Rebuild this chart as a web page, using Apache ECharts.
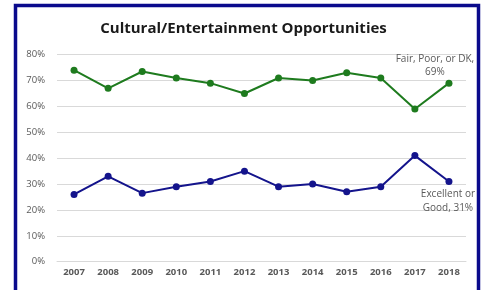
<!DOCTYPE html>
<html>
<head>
<meta charset="utf-8">
<script src="https://cdn.jsdelivr.net/npm/echarts@6/dist/echarts.min.js"></script>
<style>
html,body{margin:0;padding:0;background:#fff;}
#main{width:487px;height:290px;}
</style>
</head>
<body>
<div id="main"></div>
<script>
const years = ['2007','2008','2009','2010','2011','2012','2013','2014','2015','2016','2017','2018'];
const fairPoorDK = [74, 67, 73.5, 71, 69, 65, 71, 70, 73, 71, 59, 69];
const excellentGood = [26, 33, 26.5, 29, 31, 35, 29, 30, 27, 29, 41, 31];
const yTicks = [0, 10, 20, 30, 40, 50, 60, 70, 80];
const titleText = 'Cultural/Entertainment Opportunities';
const greenName = 'Fair, Poor, or DK';
const blueName = 'Excellent or Good';

const chart = echarts.init(document.getElementById('main'), null, {renderer: 'canvas'});
const lastIdx = years.length - 1;

function withLastLabel(values, labelCfg) {
  return values.map((v, i) => i === lastIdx ? {value: v, label: labelCfg} : v);
}

chart.setOption({
  animation: false,
  backgroundColor: '#fff',
  title: {
    text: titleText,
    left: 'center',
    top: 16,
    textStyle: {fontFamily: 'Open Sans', fontWeight: 'bold', fontSize: 15, color: '#1a1a1a'}
  },
  graphic: [{
    type: 'polyline',
    shape: {points: [[15.5, 400], [15.5, 5.5], [478.5, 5.5], [478.5, 400]]},
    style: {fill: 'none', stroke: '#0a0a8c', lineWidth: 3.5},
    silent: true
  }],
  grid: {left: 57, right: 21, top: 54.7, bottom: 28.3},
  xAxis: {
    type: 'category',
    data: years,
    boundaryGap: true,
    axisLine: {show: true, lineStyle: {color: '#d9d9d9', width: 1}},
    axisTick: {show: false},
    axisLabel: {color: '#595959', fontSize: 9.5, fontFamily: 'Open Sans', fontWeight: 'bold', margin: 6}
  },
  yAxis: {
    type: 'value',
    min: yTicks[0],
    max: yTicks[yTicks.length - 1],
    interval: 10,
    axisLine: {show: false},
    axisTick: {show: false},
    splitLine: {lineStyle: {color: '#d9d9d9', width: 1}},
    axisLabel: {color: '#595959', fontSize: 9.5, fontFamily: 'Open Sans', margin: 12, formatter: v => v + '%'}
  },
  series: [{
    name: greenName,
    type: 'line',
    data: withLastLabel(fairPoorDK, {
      show: true, position: 'top', distance: 1, offset: [-14, 0],
      formatter: p => greenName + ',\n' + Math.round(p.value) + '%',
      color: '#595959', fontSize: 10, fontFamily: 'Open Sans', lineHeight: 13, align: 'center'
    }),
    color: '#1e7b1e',
    symbol: 'circle',
    symbolSize: 7,
    lineStyle: {width: 2, color: '#1e7b1e'},
    itemStyle: {color: '#1e7b1e'},
    label: {show: false}
  }, {
    name: blueName,
    type: 'line',
    data: withLastLabel(excellentGood, {
      show: true, position: 'bottom', distance: 2, offset: [-1, 0],
      formatter: p => 'Excellent or\nGood, ' + Math.round(p.value) + '%',
      color: '#595959', fontSize: 10, fontFamily: 'Open Sans', lineHeight: 14, align: 'center'
    }),
    color: '#14148c',
    symbol: 'circle',
    symbolSize: 7,
    lineStyle: {width: 2, color: '#14148c'},
    itemStyle: {color: '#14148c'},
    label: {show: false}
  }]
});
</script>
</body>
</html>
